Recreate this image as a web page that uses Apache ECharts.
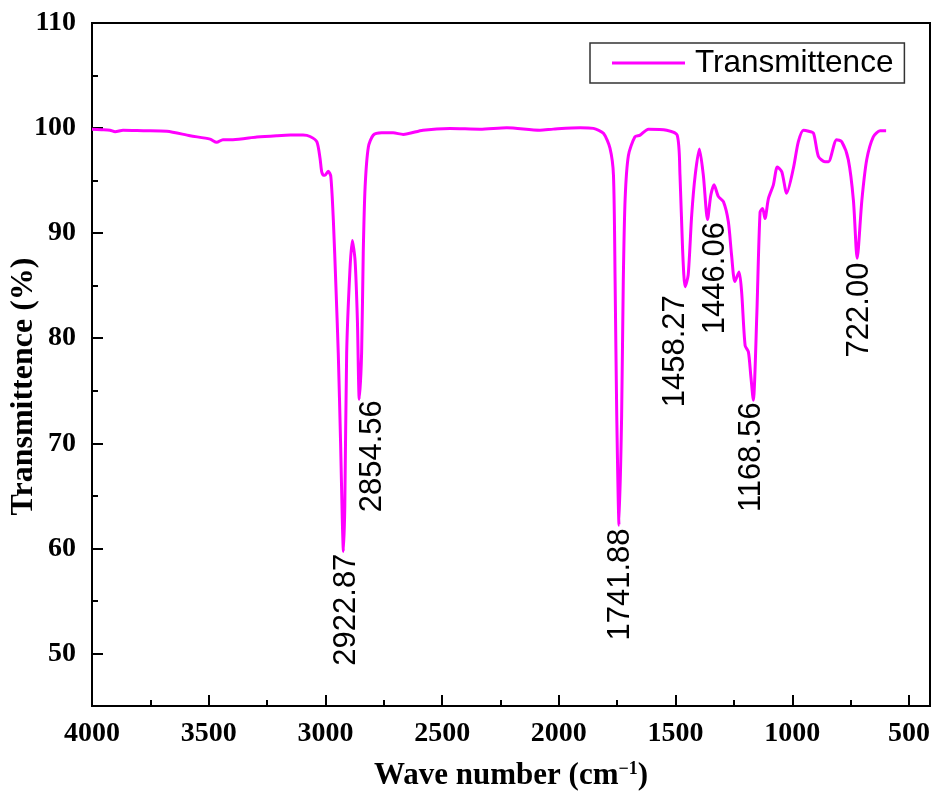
<!DOCTYPE html>
<html lang="en">
<head>
<meta charset="UTF-8">
<title>FTIR</title>
<script src="https://cdn.jsdelivr.net/npm/echarts@6/dist/echarts.min.js"></script>
<style>
  html, body { margin: 0; padding: 0; background: #fff; }
  #main { width: 932px; height: 793px; }
</style>
</head>
<body>
<div id="main"></div>
<script type="text/javascript">
// spectrum
var waveNumber = [4000, 3960, 3923, 3901, 3867, 3780, 3679, 3580, 3494, 3466, 3439, 3396, 3294, 3209, 3150, 3096, 3066, 3037,
  3023, 3016, 3008, 3002, 2988, 2977, 2966, 2955, 2945, 2935, 2928, 2923, 2917, 2909, 2895, 2885, 2873, 2863, 2855,
  2845, 2838, 2830, 2816, 2795, 2759, 2710, 2667, 2582, 2466, 2338, 2223, 2081, 2024, 1909, 1852, 1809, 1781, 1766,
  1759, 1752, 1742, 1731, 1724, 1716, 1702, 1674, 1652, 1616, 1538, 1493, 1481, 1470, 1459, 1446, 1431, 1416, 1398,
  1381, 1363, 1349, 1335, 1317, 1295, 1274, 1260, 1246, 1228, 1217, 1202, 1188, 1178, 1167, 1152, 1138, 1127, 1117,
  1102, 1081, 1064, 1045, 1024, 995, 974, 952, 930, 909, 888, 860, 845, 810, 788, 760, 738, 722, 702, 681, 653, 624, 598];
var transmittance = [99.9, 99.85, 99.8, 99.65, 99.8, 99.75, 99.7, 99.27, 98.95, 98.64, 98.9, 98.9, 99.14, 99.27, 99.33, 99.33, 99.2, 98.7,
  97.1, 95.84, 95.5, 95.5, 95.9, 95.4, 91.2, 84.9, 78.6, 70.0, 63.0, 59.7, 64.0, 78.6, 86.5, 89.3, 87.4, 81.7, 74.2,
  78.6, 88.1, 94.4, 98.2, 99.33, 99.55, 99.55, 99.4, 99.8, 99.97, 99.9, 100.03, 99.8, 99.9, 100.03, 99.97, 99.5, 98.1, 95.5,
  85.4, 72.7, 62.2, 72.7, 85.4, 93.3, 97.4, 99.17, 99.33, 99.9, 99.8, 99.33, 95.5, 88.5, 84.9, 86.0, 91.7, 95.5, 98.0,
  95.5, 91.3, 93.6, 94.6, 93.5, 93.0, 91.1, 87.9, 85.4, 86.3, 84.4, 79.3, 78.7, 76.5, 74.1, 82.2, 92.0, 92.35, 91.4,
  93.3, 94.6, 96.3, 95.84, 93.8, 96.2, 98.7, 99.8, 99.7, 99.5, 97.3, 96.8, 96.8, 98.9, 98.7, 97.0, 93.1, 87.6, 93.1, 97.0, 99.17, 99.74, 99.74];

// peak annotations: text and where the top of each label hangs
var peakText = ['2922.87', '2854.56', '1741.88', '1458.27', '1446.06', '1168.56', '722.00'];
var peakLabelX = [2912, 2800, 1738, 1500, 1331, 1177, 714];
var peakLabelY = [59.5, 74.1, 61.9, 84.1, 91.05, 73.9, 87.2];

// axis ticks
var xMajor = [4000, 3500, 3000, 2500, 2000, 1500, 1000, 500];
var xMinor = [3750, 3250, 2750, 2250, 1750, 1250, 750];
var yMajor = [50, 60, 70, 80, 90, 100, 110];
var yMinor = [55, 65, 75, 85, 95, 105];

var lineData = [];
for (var i = 0; i < waveNumber.length; i++) {
  lineData.push([waveNumber[i], transmittance[i]]);
}
var peakData = [];
for (var j = 0; j < peakText.length; j++) {
  peakData.push({ name: peakText[j], value: [peakLabelX[j], peakLabelY[j]] });
}

var serif = "'Liberation Serif', 'Times New Roman', serif";
var sans = "'Liberation Sans', Arial, sans-serif";
function plain(v) { return String(v); }

var myChart = echarts.init(document.getElementById('main'));
myChart.setOption({
  backgroundColor: '#fff',
  animation: false,
  grid: {
    left: 92, right: 2, top: 23, bottom: 87,
    outerBoundsMode: 'none',
    containLabel: false,
    show: true, borderColor: '#000', borderWidth: 2
  },
  legend: {
    data: [{ name: 'Transmittence', icon: 'rect' }],
    left: 590, top: 43,
    padding: [4, 11, 4, 22],
    borderColor: '#333', borderWidth: 1.5,
    itemWidth: 73, itemHeight: 3,
    itemStyle: { color: '#ff00ff' },
    textStyle: { fontFamily: sans, fontSize: 31.5, color: '#000', padding: [0, 0, 0, 5] }
  },
  xAxis: [{
    type: 'value', inverse: true, min: 410, max: 4000,
    name: '{t|Wave number (cm}{s|−1}{t|)}',
    nameLocation: 'middle', nameGap: 54, nameMoveOverlap: false,
    nameTextStyle: {
      rich: {
        t: { fontFamily: serif, fontWeight: 'bold', fontSize: 31, color: '#000' },
        s: { fontFamily: serif, fontWeight: 'bold', fontSize: 18, color: '#000', verticalAlign: 'top' }
      }
    },
    axisLine: { lineStyle: { color: '#000', width: 2 } },
    axisTick: { inside: true, length: 11, customValues: xMajor, lineStyle: { color: '#000', width: 2 } },
    axisLabel: { customValues: xMajor, formatter: plain, margin: 14, fontFamily: serif, fontWeight: 'bold', fontSize: 28, color: '#000' },
    splitLine: { show: false }
  }, {
    type: 'value', inverse: true, min: 410, max: 4000, position: 'bottom',
    axisLine: { show: false },
    axisTick: { inside: true, length: 6, customValues: xMinor, lineStyle: { color: '#000', width: 2 } },
    axisLabel: { show: false },
    splitLine: { show: false }
  }],
  yAxis: [{
    type: 'value', min: 45, max: 110,
    name: 'Transmittence (%)',
    nameLocation: 'middle', nameGap: 52, nameMoveOverlap: false,
    nameTextStyle: { fontFamily: serif, fontWeight: 'bold', fontSize: 32, color: '#000', padding: [0, 44, 0, 0] },
    axisLine: { show: true, lineStyle: { color: '#000', width: 2 } },
    axisTick: { show: true, inside: true, length: 11, customValues: yMajor, lineStyle: { color: '#000', width: 2 } },
    axisLabel: { customValues: yMajor, formatter: plain, margin: 16, fontFamily: serif, fontWeight: 'bold', fontSize: 28, color: '#000' },
    splitLine: { show: false }
  }, {
    type: 'value', min: 45, max: 110, position: 'left',
    axisLine: { show: false },
    axisTick: { show: true, inside: true, length: 6, customValues: yMinor, lineStyle: { color: '#000', width: 2 } },
    axisLabel: { show: false },
    splitLine: { show: false }
  }],
  series: [{
    name: 'Transmittence',
    type: 'line',
    data: lineData,
    symbol: 'none',
    smooth: 0.25,
    lineStyle: { color: '#ff00ff', width: 3 },
    itemStyle: { color: '#ff00ff' }
  }, {
    name: 'peaks',
    type: 'scatter',
    data: peakData,
    symbol: 'circle',
    symbolSize: 1,
    itemStyle: { color: 'rgba(0,0,0,0)', opacity: 1 },
    silent: true,
    label: {
      show: true,
      position: 'inside',
      rotate: 90,
      align: 'right',
      verticalAlign: 'middle',
      formatter: '{b}',
      fontFamily: sans,
      fontSize: 31,
      color: '#000',
      opacity: 1
    }
  }]
});
</script>
</body>
</html>
